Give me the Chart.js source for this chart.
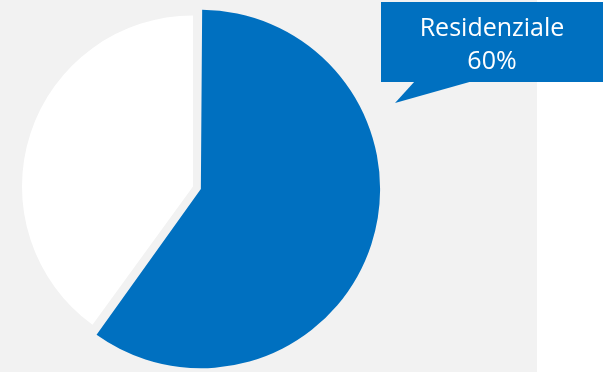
<!DOCTYPE html>
<html>
<head>
<meta charset="utf-8">
<script src="https://cdn.jsdelivr.net/npm/chart.js@4/dist/chart.umd.min.js"></script>
<style>
  body { margin: 0; background: #ffffff; }
  #wrap { position: relative; width: 610px; height: 372px; }
  #bg { position: absolute; left: 0; top: 0; width: 537px; height: 372px; background: #f2f2f2; }
  #chart { position: absolute; left: 0; top: 0; }
</style>
</head>
<body>
<div id="wrap">
  <div id="bg"></div>
  <canvas id="chart" width="610" height="372"></canvas>
</div>
<script>
const categories = ["Residenziale", "Altro"];
const values = [60, 40];
const colors = ["#0070c0", "#ffffff"];
const explode = [33, 0];

// callout for the first slice
const callout = {
  id: "callout",
  afterDraw(chart) {
    const ctx = chart.ctx;
    const total = values.reduce((a, b) => a + b, 0);
    const pct = Math.round(values[0] / total * 100) + "%";
    ctx.save();
    ctx.fillStyle = "#0070c0";
    ctx.fillRect(381, 2, 222, 80);
    ctx.beginPath();
    ctx.moveTo(415, 81);
    ctx.lineTo(473, 81);
    ctx.lineTo(395, 103);
    ctx.closePath();
    ctx.fill();
    ctx.fillStyle = "#ffffff";
    ctx.font = "25px 'Open Sans'";
    ctx.textAlign = "center";
    ctx.textBaseline = "alphabetic";
    ctx.fillText(categories[0], 492, 35.5);
    ctx.fillText(pct, 492, 69);
    ctx.restore();
  }
};

new Chart(document.getElementById("chart"), {
  type: "pie",
  data: {
    labels: categories,
    datasets: [{
      data: values,
      backgroundColor: colors,
      borderWidth: 0,
      offset: explode,
      radius: 171
    }]
  },
  options: {
    responsive: false,
    animation: false,
    layout: { padding: { right: 224, top: 1 } },
    plugins: {
      legend: { display: false },
      tooltip: { enabled: false }
    }
  },
  plugins: [callout]
});
</script>
</body>
</html>
